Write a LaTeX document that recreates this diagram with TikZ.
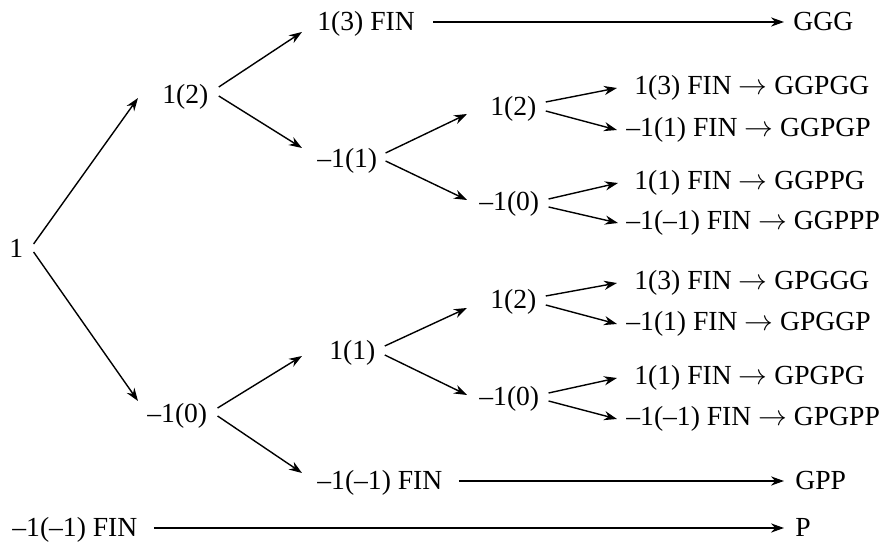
\documentclass[tikz,border=0pt]{standalone}
\usepackage{fontspec}
\setmainfont{Liberation Serif}
\usetikzlibrary{arrows.meta}

\begin{document}
\begin{tikzpicture}[x=0.5pt,y=-0.5pt,>={Stealth[length=6.5pt,width=4.6pt]},
  state/.style={anchor=west,inner sep=0pt,text height=10.8pt,text depth=2pt,font=\fontsize{13.8}{16}\selectfont},
  move/.style={->,line width=0.7pt}]
\useasboundingbox (0,0) rectangle (884,544);
% first and second game
\node[state] (r) at (9,249) {1};
\node[state] (a) at (162,95) {1(2)};
\node[state] (f) at (147,414) {–1(0)};
\node[state] (k) at (12,528) {–1(–1) FIN};
% third game
\node[state] (b) at (317,22) {1(3) FIN};
\node[state] (c) at (317,159) {–1(1)};
\node[state] (g) at (329,351) {1(1)};
\node[state] (j) at (317,481) {–1(–1) FIN};
% fourth game
\node[state] (d) at (490,107) {1(2)};
\node[state] (e) at (479,202) {–1(0)};
\node[state] (h) at (490,300) {1(2)};
\node[state] (i) at (479,397) {–1(0)};
% fifth game
\node[state] (l1) at (634,86) {1(3) FIN $\rightarrow$ GGPGG};
\node[state] (l2) at (626,128) {–1(1) FIN $\rightarrow$ GGPGP};
\node[state] (l3) at (634,181) {1(1) FIN $\rightarrow$ GGPPG};
\node[state] (l4) at (626,221) {–1(–1) FIN $\rightarrow$ GGPPP};
\node[state] (l5) at (634,281) {1(3) FIN $\rightarrow$ GPGGG};
\node[state] (l6) at (626,322) {–1(1) FIN $\rightarrow$ GPGGP};
\node[state] (l7) at (634,376) {1(1) FIN $\rightarrow$ GPGPG};
\node[state] (l8) at (626,417) {–1(–1) FIN $\rightarrow$ GPGPP};
% results
\node[state] (s1) at (793,22) {GGG};
\node[state] (s2) at (795,481) {GPP};
\node[state] (s3) at (795,528) {P};

\draw[move] ([shift={(10,-5)}]r.east) -- ([shift={(-24,3)}]a.west);
\draw[move] ([shift={(10,3)}]r.east) -- ([shift={(-9,-13)}]f.west);
\draw[move] ([shift={(10,-8)}]a.east) -- ([shift={(-15,10)}]b.west);
\draw[move] ([shift={(10,1)}]a.east) -- ([shift={(-15,-11)}]c.west);
\draw[move] ([shift={(10,-6)}]f.east) -- ([shift={(-27,5)}]g.west);
\draw[move] ([shift={(10,2)}]f.east) -- ([shift={(-15,-8)}]j.west);
\draw[move] ([shift={(8,-6)}]c.east) -- ([shift={(-23,7)}]d.west);
\draw[move] ([shift={(8,2)}]c.east) -- ([shift={(-12,-2)}]e.west);
\draw[move] ([shift={(9,-5)}]g.east) -- ([shift={(-23,8)}]h.west);
\draw[move] ([shift={(9,4)}]g.east) -- ([shift={(-12,-2)}]i.west);
\draw[move] ([shift={(9,-5)}]d.east) -- ([shift={(-17,2)}]l1.west);
\draw[move] ([shift={(9,4)}]d.east) -- ([shift={(-9,2)}]l2.west);
\draw[move] ([shift={(9,-3)}]e.east) -- ([shift={(-16,2)}]l3.west);
\draw[move] ([shift={(9,5)}]e.east) -- ([shift={(-8,2)}]l4.west);
\draw[move] ([shift={(9,-4)}]h.east) -- ([shift={(-17,2)}]l5.west);
\draw[move] ([shift={(9,5)}]h.east) -- ([shift={(-9,2)}]l6.west);
\draw[move] ([shift={(9,-4)}]i.east) -- ([shift={(-17,2)}]l7.west);
\draw[move] ([shift={(9,4)}]i.east) -- ([shift={(-9,2)}]l8.west);
\draw[move] ([shift={(18,0)}]b.east) -- ([shift={(-9,0)}]s1.west);
\draw[move] ([shift={(16,0)}]j.east) -- ([shift={(-11,0)}]s2.west);
\draw[move] ([shift={(16,0)}]k.east) -- ([shift={(-11,0)}]s3.west);
\end{tikzpicture}
\end{document}
